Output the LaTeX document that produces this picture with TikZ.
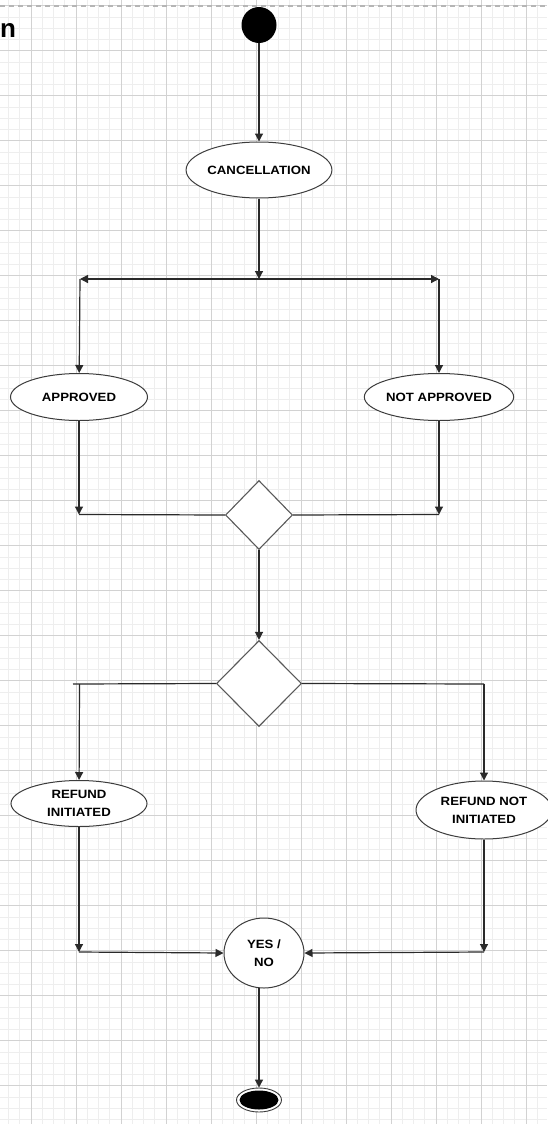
\documentclass[tikz,border=0pt]{standalone}
\usepackage{fontspec}
\setsansfont{Liberation Sans}
\newfontfamily\lblfont{Liberation Sans}[FakeStretch=1.1]
\usetikzlibrary{shapes.geometric,arrows.meta}
\definecolor{edgecol}{HTML}{2A2A2A}
\definecolor{shapecol}{HTML}{3C3C3C}
\definecolor{gridmajor}{HTML}{D2D2D2}
\definecolor{gridminor}{HTML}{EEEEEE}
\definecolor{pageline}{HTML}{B5B5B5}
\begin{document}
\begin{tikzpicture}[x=1pt,y=-1pt,
  minorgrid/.style={draw=gridminor,line width=0.6pt},
  majorgrid/.style={draw=gridmajor,line width=1pt},
  conn/.style={draw=edgecol,line width=1.2pt},
  arr/.style={conn,-{Triangle[length=8pt,width=8pt]}},
  state/.style={ellipse,draw=shapecol,fill=white,line width=1pt,inner sep=0pt,align=center,
    font={\lblfont\bfseries\fontsize{12}{18}\selectfont}},
  decision/.style={diamond,draw=shapecol!85,fill=white,line width=1.1pt,inner sep=0pt},
]
\useasboundingbox (0,0) rectangle (547,1124);
\fill[white] (0,0) rectangle (547,1124);

% background grid: minor lines every quarter cell, major lines every cell
\foreach \i in {-3,...,46} \draw[minorgrid] ({31+11.25*\i},0) -- ({31+11.25*\i},1124);
\foreach \j in {0,...,100} \draw[minorgrid] (0,{5.7+11.25*\j}) -- (547,{5.7+11.25*\j});
\foreach \k in {0,...,11} \draw[majorgrid] ({31+45*\k},0) -- ({31+45*\k},1124);
\foreach \k in {0,...,24} \draw[majorgrid] (0,{5.7+45*\k}) -- (547,{5.7+45*\k});
% page border along the top
\draw[pageline,line width=2pt,dash pattern=on 5pt off 4pt] (0,6) -- (547,6);

% title fragment
\node[anchor=base west,inner sep=0pt,font={\sffamily\bfseries\fontsize{26}{26}\selectfont}] (title) at (0,37.5) {n};

% states
\node[ellipse,fill=black,minimum width=35pt,minimum height=36pt,inner sep=0pt] (start) at (259,25) {};
\node[state,minimum width=136pt,minimum height=56pt] (canc) at (259,170) {CANCELLATION};
\node[state,minimum width=137pt,minimum height=47pt] (appr) at (79,397) {APPROVED};
\node[state,minimum width=137pt,minimum height=47pt] (notappr) at (439,397) {NOT APPROVED};
\node[decision,minimum width=67pt,minimum height=69pt] (d1) at (259,515) {};
\node[decision,minimum width=85pt,minimum height=86pt] (d2) at (259,683.5) {};
\node[state,minimum width=136pt,minimum height=46pt] (refund) at (79,803.5) {REFUND\\INITIATED};
\node[state,minimum width=136pt,minimum height=58pt] (refundnot) at (484,810) {REFUND NOT\\INITIATED};
\node[state,minimum width=80pt,minimum height=70pt] (yesno) at (264,953) {YES /\\NO};
\node[ellipse,draw=shapecol,fill=white,line width=0.9pt,minimum width=45pt,minimum height=24pt,inner sep=0pt] (endo) at (259,1100) {};
\node[ellipse,fill=black,minimum width=39pt,minimum height=19pt,inner sep=0pt] (endi) at (259,1100) {};

% junction points
\coordinate (fork) at (259,279);
\coordinate (forkL) at (80,279);
\coordinate (forkR) at (439,279);
\coordinate (m1L) at (79,514.5);
\coordinate (m1R) at (439,514.5);
\coordinate (s2L) at (73,684);
\coordinate (s2Lv) at (79.5,684);
\coordinate (s2R) at (484,684);
\coordinate (m2L) at (79,952);
\coordinate (m2R) at (484,952);
\coordinate (yesnoOut) at (259,987.5);

% connectors
\draw[arr] (start) -- (canc);
\draw[arr] (canc) -- (fork);
\draw[arr] (fork) -- (forkL);
\draw[arr] (fork) -- (forkR);
\draw[arr] (forkL) -- (appr);
\draw[arr] (forkR) -- (notappr);
\draw[arr] (appr) -- (m1L);
\draw[conn] (m1L) -- (d1.west);
\draw[arr] (notappr) -- (m1R);
\draw[conn] (m1R) -- (d1.east);
\draw[arr] (d1) -- (d2);
\draw[conn] (d2.west) -- (s2L);
\draw[arr] (s2Lv) -- (refund);
\draw[conn] (d2.east) -- (s2R);
\draw[arr] (s2R) -- (refundnot);
\draw[arr] (refund) -- (m2L);
\draw[arr] (m2L) -- (yesno.west);
\draw[arr] (refundnot) -- (m2R);
\draw[arr] (m2R) -- (yesno.east);
\draw[arr] (yesnoOut) -- (endo.north);
\end{tikzpicture}
\end{document}
